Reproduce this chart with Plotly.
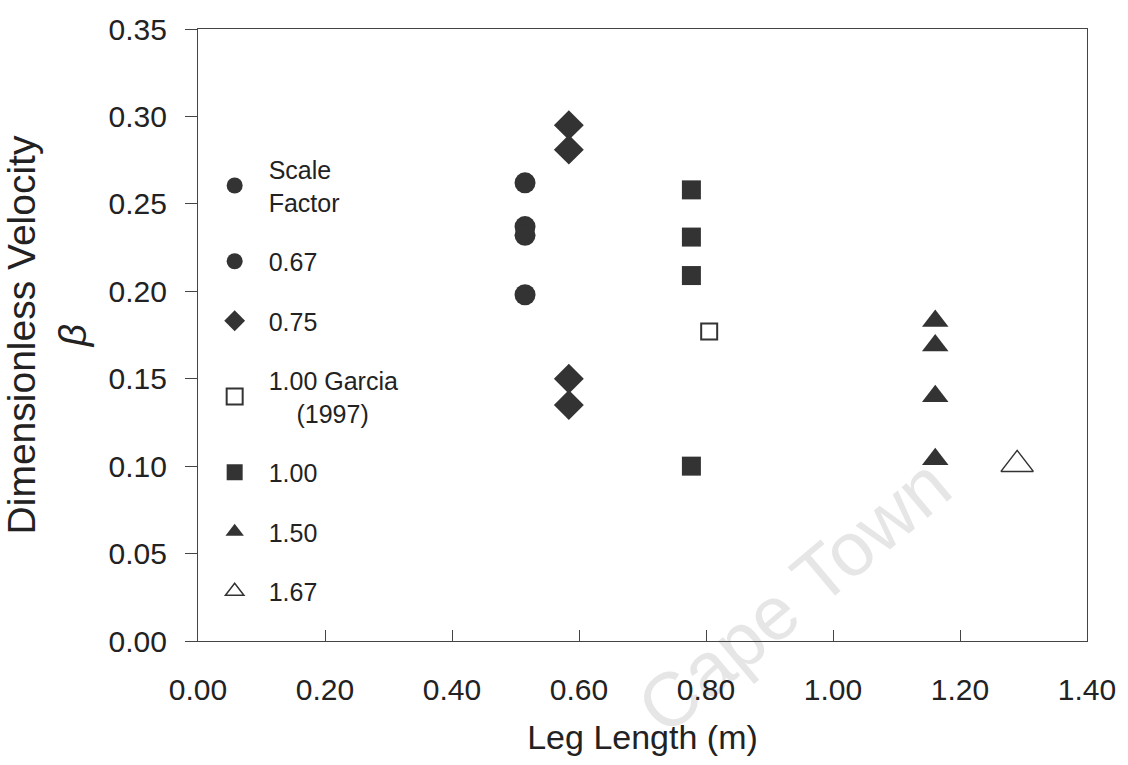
import plotly.graph_objects as go

# Leg length (m) and dimensionless velocity for each scale factor
x_067 = [0.515, 0.515, 0.515, 0.515]
y_067 = [0.262, 0.237, 0.232, 0.198]

x_075 = [0.584, 0.584, 0.584, 0.584]
y_075 = [0.295, 0.281, 0.150, 0.135]

x_100_garcia = [0.805]
y_100_garcia = [0.177]

x_100 = [0.777, 0.777, 0.777, 0.777]
y_100 = [0.258, 0.231, 0.209, 0.100]

x_150 = [1.161, 1.161, 1.161, 1.161]
y_150 = [0.183, 0.169, 0.140, 0.104]

x_167 = [1.290]
y_167 = [0.101]

x_ticks = [0.0, 0.2, 0.4, 0.6, 0.8, 1.0, 1.2, 1.4]
y_ticks = [0.0, 0.05, 0.10, 0.15, 0.20, 0.25, 0.30, 0.35]

DARK = "#333333"
FONT = "Liberation Sans, Arial, sans-serif"

fig = go.Figure()

# header entry of the legend
fig.add_trace(go.Scatter(
    x=[None], y=[None], mode="markers", name="Scale<br>Factor",
    marker=dict(symbol="circle", size=16, color=DARK),
    legendgroup="h",
))

series = [
    ("0.67", x_067, y_067, dict(symbol="circle", size=21, color=DARK)),
    ("0.75", x_075, y_075, dict(symbol="diamond", size=23, color=DARK)),
    ("1.00 Garcia<br>&nbsp;&nbsp;&nbsp;&nbsp;(1997)", x_100_garcia, y_100_garcia,
     dict(symbol="square-open", size=16, color=DARK, line=dict(width=2, color=DARK))),
    ("1.00", x_100, y_100, dict(symbol="square", size=19, color=DARK)),
    ("1.50", x_150, y_150, dict(symbol="triangle-up", size=23, color=DARK)),
    ("1.67", x_167, y_167, dict(symbol="triangle-up-open", size=28, color=DARK,
                                 line=dict(width=1.5, color=DARK))),
]
for i, (name, xs, ys, mk) in enumerate(series):
    fig.add_trace(go.Scatter(
        x=xs, y=ys, mode="markers", name=name, marker=mk,
        legendgroup=f"g{i}",
    ))

# faint watermark, kept underneath everything else
fig.add_shape(
    type="rect", xref="paper", yref="paper",
    x0=0.655, x1=0.675, y0=0.073, y1=0.093,
    line=dict(width=0), fillcolor="rgba(0,0,0,0)", layer="below",
    label=dict(text="Cape Town", textangle=-40, textposition="middle center",
               font=dict(family=FONT, size=76, color="#e6e6e6")),
)

axis_common = dict(
    showgrid=False, zeroline=False, showline=True, linecolor="#444444",
    linewidth=1.2, mirror=True, ticks="outside", ticklen=12, tickwidth=1,
    tickcolor="#444444",
    tickfont=dict(family=FONT, size=30, color="#222222"),
)

fig.update_layout(
    width=1128, height=765,
    margin=dict(l=198, r=38, t=23, b=124),
    paper_bgcolor="white", plot_bgcolor="white",
    font=dict(family=FONT, color="#222222"),
    xaxis=dict(
        axis_common, range=[0, 1.4], tickvals=x_ticks,
        ticktext=[f"{v:.2f}" for v in x_ticks], ticks="inside", ticklen=11,
        ticklabelstandoff=22,
        title=dict(text="Leg Length (m)", font=dict(family=FONT, size=34),
                   standoff=20),
    ),
    yaxis=dict(
        axis_common, range=[0, 0.35], tickvals=y_ticks,
        ticktext=[f"{v:.2f}" for v in y_ticks], ticklabelstandoff=12,
        title=dict(text="Dimensionless Velocity<br><i>β</i>",
                   font=dict(family=FONT, size=39), standoff=16),
    ),
    showlegend=True,
    legend=dict(
        x=0.003, y=0.808, xanchor="left", yanchor="top",
        bgcolor="rgba(0,0,0,0)", borderwidth=0,
        font=dict(family=FONT, size=25, color="#222222"),
        tracegroupgap=24, itemsizing="trace", itemwidth=58,
    ),
)

fig.write_html("out.html")
